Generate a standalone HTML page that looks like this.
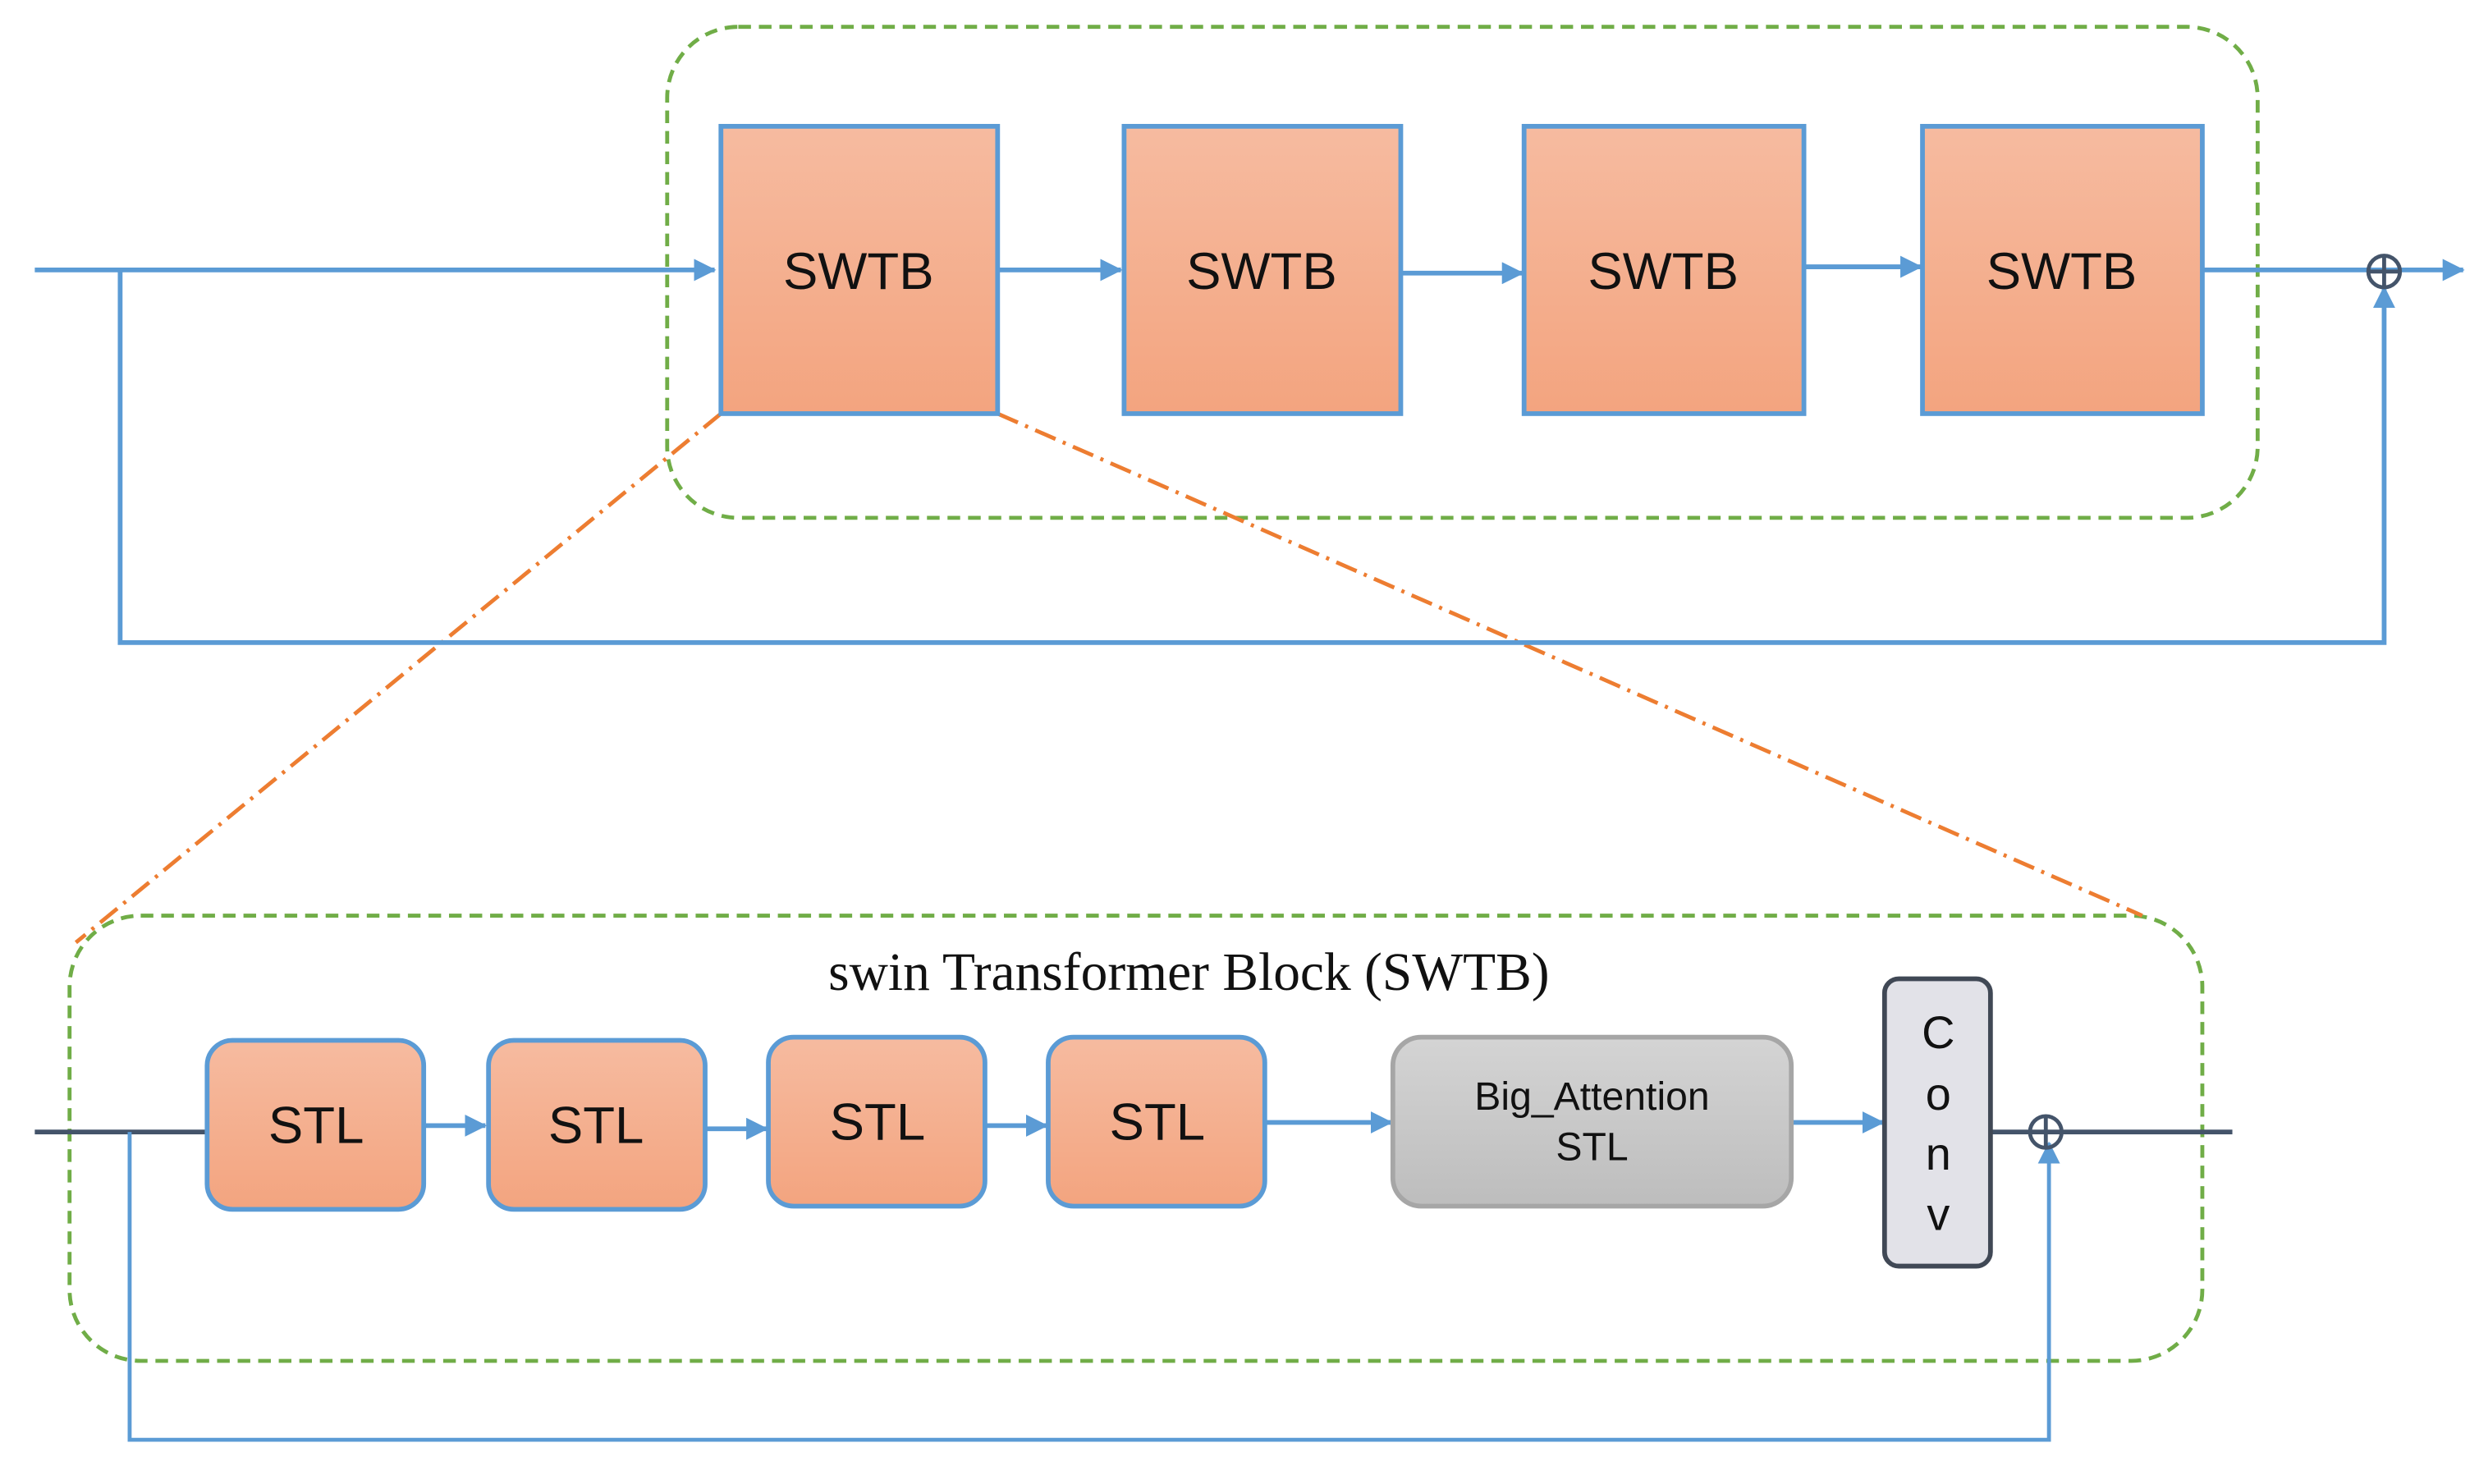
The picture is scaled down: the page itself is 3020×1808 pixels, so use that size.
<!DOCTYPE html>
<html><head><meta charset="utf-8"><style>html,body{margin:0;padding:0;background:#fff}svg{display:block}</style></head>
<body>
<svg width="3020" height="1808" viewBox="0 0 1568 940" preserveAspectRatio="none" xmlns="http://www.w3.org/2000/svg">
<defs>
<linearGradient id="og" x1="0" y1="0" x2="0" y2="1"><stop offset="0" stop-color="#f6bba0"/><stop offset="1" stop-color="#f3a47f"/></linearGradient>
<linearGradient id="gg" x1="0" y1="0" x2="0" y2="1"><stop offset="0" stop-color="#d4d4d4"/><stop offset="1" stop-color="#bdbdbd"/></linearGradient>
<marker id="a" markerWidth="14" markerHeight="14" refX="13" refY="7" orient="auto" markerUnits="userSpaceOnUse"><path d="M0,0 L14,7 L0,14 Z" fill="#5b9bd5"/></marker>
</defs>
<g fill="none">
<rect x="422" y="17" width="1006" height="311" rx="45" stroke="#70ad47" stroke-width="2.5" stroke-dasharray="8,5"/>
<rect x="44" y="580" width="1349" height="282" rx="45" stroke="#70ad47" stroke-width="2.5" stroke-dasharray="8,5"/>
<line x1="456" y1="262" x2="48" y2="597" stroke="#ed7d31" stroke-width="2.5" stroke-dasharray="14,5,2,5"/>
<line x1="631" y1="262" x2="1355" y2="580" stroke="#ed7d31" stroke-width="2.5" stroke-dasharray="14,5,2,5"/>
</g>
<g stroke="#5b9bd5" stroke-width="3" fill="none">
<line x1="22" y1="171" x2="452" y2="171" marker-end="url(#a)"/>
<line x1="631" y1="171" x2="709" y2="171" marker-end="url(#a)"/>
<line x1="886" y1="173" x2="963" y2="173" marker-end="url(#a)"/>
<line x1="1141" y1="169" x2="1215" y2="169" marker-end="url(#a)"/>
<line x1="1393" y1="171" x2="1558" y2="171" marker-end="url(#a)"/>
<polyline points="76,171 76,407 1508,407 1508,182" marker-end="url(#a)"/>
</g>
<g fill="url(#og)" stroke="#5b9bd5" stroke-width="3">
<rect x="456" y="80" width="175" height="182"/>
<rect x="711" y="80" width="175" height="182"/>
<rect x="964" y="80" width="177" height="182"/>
<rect x="1216" y="80" width="177" height="182"/>
</g>
<g font-family="Liberation Sans, sans-serif" font-size="33" text-anchor="middle" fill="#111">
<text x="543" y="183">SWTB</text><text x="798" y="183">SWTB</text><text x="1052" y="183">SWTB</text><text x="1304" y="183">SWTB</text>
</g>
<circle cx="1508" cy="172" r="10" fill="none" stroke="#44546a" stroke-width="2.5"/>
<line x1="1498" y1="172" x2="1518" y2="172" stroke="#44546a" stroke-width="2.5"/><line x1="1508" y1="162" x2="1508" y2="182" stroke="#44546a" stroke-width="2.5"/>

<text x="752" y="627" font-family="Liberation Serif, serif" font-size="34" text-anchor="middle" fill="#111">swin Transformer Block (SWTB)</text>
<g stroke-width="3" fill="none">
<line x1="22" y1="717" x2="131" y2="717" stroke="#44546a"/>
<line x1="1259" y1="717" x2="1412" y2="717" stroke="#44546a"/>
<line x1="268" y1="713" x2="307" y2="713" stroke="#5b9bd5" marker-end="url(#a)"/>
<line x1="446" y1="715" x2="485" y2="715" stroke="#5b9bd5" marker-end="url(#a)"/>
<line x1="623" y1="713" x2="662" y2="713" stroke="#5b9bd5" marker-end="url(#a)"/>
<line x1="800" y1="711" x2="880" y2="711" stroke="#5b9bd5" marker-end="url(#a)"/>
<line x1="1133" y1="711" x2="1191" y2="711" stroke="#5b9bd5" marker-end="url(#a)"/>
<polyline points="82,717 82,912 1296,912 1296,724" stroke="#5b9bd5" stroke-width="2.5" marker-end="url(#a)"/>
</g>
<g fill="url(#og)" stroke="#5b9bd5" stroke-width="3">
<rect x="131" y="659" width="137" height="107" rx="16"/>
<rect x="309" y="659" width="137" height="107" rx="16"/>
<rect x="486" y="657" width="137" height="107" rx="16"/>
<rect x="663" y="657" width="137" height="107" rx="16"/>
</g>
<rect x="881" y="657" width="252" height="107" rx="18" fill="url(#gg)" stroke="#a6a6a6" stroke-width="3"/>
<rect x="1192" y="620" width="67" height="182" rx="9" fill="#e2e2e8" stroke="#404855" stroke-width="3"/>
<g font-family="Liberation Sans, sans-serif" text-anchor="middle" fill="#111">
<text x="200" y="724" font-size="33">STL</text><text x="377" y="724" font-size="33">STL</text><text x="555" y="722" font-size="33">STL</text><text x="732" y="722" font-size="33">STL</text>
<text x="1007" y="703" font-size="25">Big_Attention</text><text x="1007" y="735" font-size="25">STL</text>
<text x="1226" y="664" font-size="29">C</text><text x="1226" y="703" font-size="29">o</text><text x="1226" y="741" font-size="29">n</text><text x="1226" y="779" font-size="29">v</text>
</g>
<circle cx="1294" cy="717" r="10" fill="none" stroke="#44546a" stroke-width="2.5"/>
<line x1="1284" y1="717" x2="1304" y2="717" stroke="#44546a" stroke-width="2.5"/><line x1="1294" y1="707" x2="1294" y2="727" stroke="#44546a" stroke-width="2.5"/>
</svg>
</body></html>
